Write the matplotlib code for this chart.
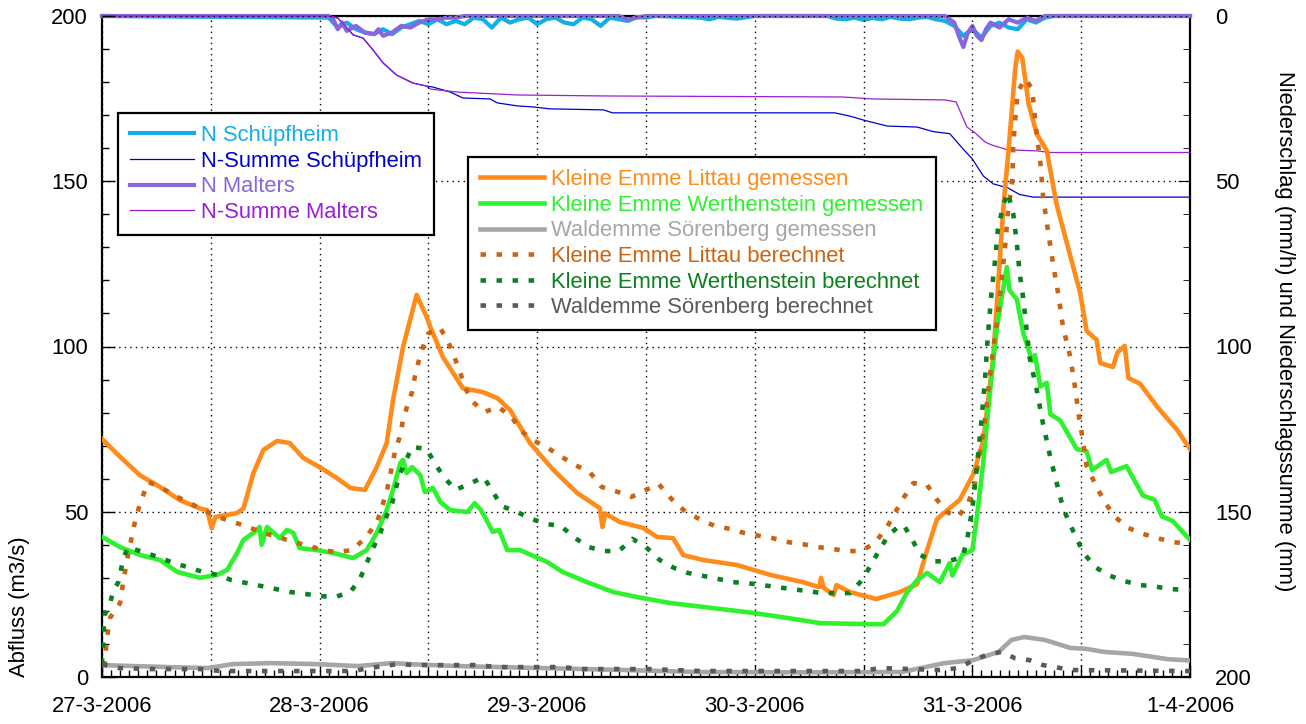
import numpy as np
import matplotlib
matplotlib.use('Agg')
import matplotlib.pyplot as plt
from matplotlib.ticker import MultipleLocator, FixedLocator

plt.rcParams['font.family'] = ['Liberation Sans', 'DejaVu Sans']

########## Data (hours after 27-3-2006 00:00) ##########

### Kleine Emme Littau gemessen (m3/s) ###
littau_gem_h = [0, 2, 4.2, 6.4, 8.6, 10.8, 11.6, 12.1, 12.5, 14.9, 15.6, 16.7, 17.8, 19.3, 20.7, 22.2,
                24, 25.9, 27.4, 29, 30.3, 31.4, 32.1, 33.2, 34.7, 35.8, 36.2, 37.6, 39.8, 42, 43.6, 45,
                47.2, 49.8, 52.4, 54.9, 55.2, 55.5, 57.1, 59.7, 61.2, 63, 64.1, 66.3, 70, 73.7, 77.3,
                79.1, 79.3, 79.6, 80.7, 81, 82.5, 85.4, 88, 89.9, 91, 92.1, 93.5, 94.6, 96.1, 97.2, 98.3,
                99.4, 100.1, 100.7, 101, 101.5, 102.2, 103.1, 104.2, 105.3, 106.8, 107.9, 108.6, 109.7,
                110.1, 111.5, 112, 112.8, 113.2, 114.5, 116.4, 118.6, 120]
littau_gem_q = [72, 66.6, 61, 57.5, 53.5, 51, 50.5, 45, 48.4, 49.6, 51, 61.7, 68.7, 71.4, 70.8, 66.3,
                63.5, 60.2, 57.2, 56.6, 63.5, 70.8, 83.8, 99.8, 115.6, 109, 106, 96.8, 87.4, 86.2, 84.4, 80.8,
                70.8, 62.6, 55.7, 51.1, 45.4, 49.5, 46.9, 45.1, 42.4, 42, 36.9, 35.4, 33.9, 30.9, 28.7,
                27.2, 30, 27, 24.8, 27.8, 25.7, 23.6, 25.7, 28.1, 38.4, 47.8, 51.1, 53.6, 61.4, 71.4, 96.8,
                141.6, 163, 183.5, 189.2, 187.3, 173.4, 164.3, 159.3, 142.8, 127.4, 116, 104.7, 102,
                95, 93.8, 98.2, 100.2, 90.5, 88.7, 81.7, 74.7, 69]

### Kleine Emme Werthenstein gemessen ###
werth_gem_h = [0, 2, 4.2, 6.4, 8.3, 10.8, 12.7, 13.8, 14.9, 15.6, 16.7, 17.4, 17.6, 18.2, 19.6, 20.4,
               21.1, 21.8, 23.7, 25.5, 27.7, 29.2, 30.3, 31.4, 32.1, 32.9, 33.2, 33.6, 34.2, 35.1, 35.6,
               36.5, 37.3, 38.4, 40.3, 41.1, 41.8, 42.3, 43.1, 43.8, 44.7, 46.1, 49.1, 50.8, 53.5, 56.4,
               59, 62.6, 66.3, 71.8, 75.5, 79.2, 84.5, 86.2, 87.7, 88.8, 89.9, 91, 92.4, 93.5, 93.8, 94.9,
               96, 96.5, 97.2, 97.9, 98.7, 99.2, 99.8, 100.1, 100.9, 101.6, 102.6, 102.9, 103.5, 104.2,
               104.6, 105.7, 107.5, 108.6, 109.2, 110.8, 111.3, 113, 114.8, 116.1, 116.9, 118.1, 120]
werth_gem_q = [42.4, 39.3, 36.9, 35.4, 31.8, 30, 30.9, 32.4, 37.5, 41.5, 43.6, 45.4, 40, 45.4, 42, 44.5,
               43.6, 39, 38.4, 37.5, 36, 38.4, 43.6, 50.5, 56.6, 64.7, 65.7, 61.7, 63.5, 61.1, 56,
               57.2, 53, 50.5, 49.9, 52.6, 50.5, 48.1, 43.9, 44.5, 38.4, 38.4, 34.8, 31.8, 28.7, 25.7,
               24.2, 22.4, 21.2, 19.4, 17.9, 16.3, 16, 16, 20, 25.7, 29.3, 31.5, 28.7, 34.5, 30.7, 37,
               38.4, 48.5, 64.9, 85.3, 105.5, 114.3, 124, 117, 114.3, 104.2, 95.6, 97.4, 87.9, 89,
               79.5, 77.6, 69, 68.3, 62.6, 65.7, 62, 63.8, 54.9, 53.6, 48.6, 47.2, 41.5]

### Waldemme Soerenberg gemessen ###
wald_gem_h = [0, 7.2, 11.7, 14.4, 18.6, 23.7, 28.2, 32, 34.7, 39.3, 48.5, 57.7, 66, 77, 88.2, 92.9,
              96.1, 98.9, 100.3, 101.7, 104, 106.8, 108.6, 110.5, 113.7, 117.5, 120]
wald_gem_q = [3.6, 3, 2.7, 3.9, 4.2, 3.9, 3.3, 4.2, 3.8, 3.3, 2.7, 2.1, 1.5, 1.4, 1.5, 4.2,
              5.1, 7.6, 11.2, 12.1, 11.2, 8.8, 8.5, 7.6, 7, 5.4, 5]

### Kleine Emme Littau berechnet ###
littau_ber_h = [0, 0.3, 0.55, 0.9, 2, 2.2, 2.7, 3.5, 4.2, 5.1, 6.4, 8.3, 9.7, 11.2, 12.8, 14.5, 16.1,
                17.8, 19.4, 21.1, 22.6, 24.3, 25.9, 27.6, 29, 30.3, 31.4, 32.3, 32.9, 33.2, 33.7, 34.2,
                34.5, 34.9, 35.4, 36, 37.3, 38.2, 38.9, 39.5, 40, 40.9, 42.2, 43.7, 45.2, 46.1, 47.5, 49,
                50.7, 52.2, 53.8, 55.1, 56.9, 58.4, 60, 61.4, 62.8, 64.4, 66.1, 67.6, 69.3, 70.8, 72.5, 74,
                75.7, 77.3, 79, 80.6, 82.3, 83.8, 85.3, 86.6, 87.5, 88.4, 89.5, 91, 92.1, 93.2, 94.4, 95.5,
                96.3, 96.8, 97.2, 97.6, 97.9, 98.3, 98.8, 99.2, 99.6, 99.9, 100.4, 100.5, 100.7, 101,
                101.8, 102.6, 102.9, 103.5, 103.8, 104.4, 104.9, 105.5, 106, 106.8, 107.3, 107.7, 108.2,
                108.6, 109.7, 110.6, 111.7, 113.2, 114.8, 116.7, 118.3, 120]
littau_ber_q = [3.5, 4.2, 12, 18, 22.4, 26.3, 34.5, 45.4, 52.6, 59, 57.5, 54.5, 52.6, 50.5, 48.4, 46.9, 45.4,
                43.6, 42.4, 40.8, 39.9, 38.4, 37.8, 38.4, 42, 46.6, 56, 68, 73.2, 77.8, 82.3, 86.2,
                90.8, 95.3, 99.8, 104, 105.6, 101.4, 96.5, 92.3, 87.7, 83.2, 80.2, 81.7, 78.7, 74.7, 71.7, 69.6,
                66.6, 64.1, 62, 57.5, 56, 54.5, 56.6, 58.4, 53.9, 49.9, 47.5, 45.7, 44.8, 43.6, 42.7, 42,
                40.8, 40.2, 39.3, 38.7, 38.1, 38.1, 40.8, 45.4, 49.9, 54.2, 58.7, 58.1, 53.6, 49.9, 48.4, 52.3,
                58.7, 67.6, 74, 82.8, 90.3, 99.4, 109.4, 119.7, 130, 140.2, 150.3, 160.5, 168.1, 177,
                181, 178, 168.8, 155.5, 145.2, 133.9, 124.9, 115.3, 105.8, 96.8, 88, 79.7, 71.4,
                63.8, 57.5, 52.9, 48.5, 45.1, 43.3, 41.8, 40.8, 40.2]

### Kleine Emme Werthenstein berechnet ###
werth_ber_h = [0, 0.1, 0.3, 0.9, 1.2, 1.8, 2.4, 2.9, 4.5, 6.2, 7.9, 9.4, 11.1, 12.7, 14.3, 16, 17.6, 19.2,
               20.8, 22.5, 24, 25.7, 27.4, 28.5, 29.2, 29.9, 30.7, 31.2, 32, 32.8, 34.2, 35.8, 36.7, 37.7,
               39, 40.7, 42.1, 43.1, 44.1, 45.8, 47.4, 49, 50.6, 52.2, 53.7, 55.3, 57, 58.5, 60, 61.5,
               63.1, 64.6, 66.3, 67.9, 69.6, 71.2, 72.9, 74.4, 76.1, 77.8, 79.4, 80.8, 82.5, 83.9, 84.9,
               85.8, 86.7, 87.8, 88.4, 89.3, 90.2, 91.7, 93.3, 94.9, 95.4, 96, 96.5, 97, 97.4, 97.7, 98.1,
               98.5, 98.8, 99.4, 99.9, 100.5, 100.9, 101.2, 101.6, 102, 102.3, 103.1, 103.8, 104.6, 105.3,
               106, 106.8, 108.2, 109.5, 111.2, 112.8, 114.5, 115.9, 117.8, 120]
werth_ber_q = [4, 10.3, 18.8, 22.4, 25.7, 28.7, 36.3, 39.3, 37.8, 36.3, 34.5, 33.3, 31.8, 30.9, 29.3, 28.4,
               27.5, 26.6, 25.7, 25.1, 24.5, 24.2, 25.7, 30, 34.5, 39, 43.6, 47.5, 52.6, 61.1, 69.6, 69,
               64.7, 60.5, 56.6, 58.7, 60.5, 56, 51.7, 49.9, 47.8, 46.3, 45.7, 42, 39.3, 38.1, 38.1, 41.8,
               39.3, 35.4, 33, 31.5, 30.6, 29.7, 28.7, 28.4, 27.8, 27.2, 26.6, 26, 25.4, 25.4, 25.4, 29.5,
               34.5, 38.6, 42.8, 45.4, 46, 42, 37, 35, 35, 36.3, 41.2, 51.1, 63.8, 77.7, 90.4, 103.2, 116,
               126.1, 135.2, 142.8, 146.6, 140.2, 131.3, 122.4, 114.7, 104.5, 96.8, 86.8, 76.5, 66.4, 58.7,
               51.1, 46, 37.8, 33.3, 30.6, 29, 27.8, 27.5, 26.6, 26.3]

### Waldemme Soerenberg berechnet ###
wald_ber_h = [0, 1.9, 5.3, 10.8, 13.1, 27.8, 29.4, 31, 32.6, 34.7, 41.1, 43.9, 50.7, 53, 60.4, 66,
              83.6, 85.9, 92.4, 94.5, 96.1, 97.5, 99.2, 100.7, 102.3, 103.8, 105.7, 107.2, 120]
wald_ber_q = [3.8, 2.7, 2.4, 2.4, 1.8, 1.8, 2.7, 3.3, 3.9, 3.6, 3.6, 3, 3, 2.4, 2.4, 1.8,
              1.8, 2.7, 2.1, 2.7, 5.1, 6.6, 7.6, 5.7, 5.1, 3.6, 2.7, 2.1, 1.8]

### Niederschlag Schuepfheim (mm/h) ###
n_schuepf_h = [0, 25, 26, 27, 28, 29, 30, 31, 32, 33, 34, 35, 36, 37, 38, 39, 40, 41, 42, 43, 44, 45,
               46, 47, 48, 49, 50, 51, 52, 53, 54, 55, 56, 57, 58, 59, 60, 61, 66, 67, 68, 70, 72, 80,
               81, 82, 83, 84, 85, 86, 87, 88, 89, 90, 91, 92, 93, 94, 95, 96, 97, 98, 99, 100, 101,
               102, 103, 104, 105, 120]
n_schuepf = [0, 0.5, 3.5, 2, 4, 5, 5.5, 4, 5.5, 3.5, 2.5, 1.5, 2.5, 1, 2.5, 1.5, 2.5, 0.5, 1, 3.5, 0.5, 2,
             1, 0.5, 2.5, 1, 0.5, 2, 2.5, 0.5, 1, 3, 0.5, 1, 1.5, 0.3, 0.5, 0, 0.5, 1, 0.3, 0.8, 0, 0,
             0.8, 1, 0.5, 1.2, 0.6, 1, 0.3, 0.8, 1, 0.5, 0.3, 1, 1.5, 3, 6, 4, 6.5, 3, 2, 3.5, 4,
             1, 2, 0.5, 0, 0]

### Niederschlag Malters (mm/h) ###
n_malters_h = [0, 25, 25.5, 26, 26.5, 27, 28, 29, 30, 30.5, 31, 32, 33, 34, 35, 36, 37, 38, 39, 40,
               57, 58, 59, 60, 93, 94, 94.5, 95, 95.5, 96, 96.5, 97, 97.5, 98, 99, 100, 101, 102, 103,
               104, 120]
n_malters = [0, 0, 1, 4, 2, 4.5, 3, 5, 5.5, 4, 6, 5, 3, 3.5, 2, 1, 1, 0.5, 0.5, 0,
             0, 1, 0.5, 0, 0, 2, 6, 9.4, 5, 3, 6, 7.3, 4, 2, 3.5, 1, 2, 0.5, 1.5,
             0, 0]

### Niederschlagssumme (mm) ###
sum_schuepf_h = [0, 25, 26, 27.7, 28.8, 29.9, 31, 32.5, 34.3, 35.8, 36.5, 38.4, 39.8, 42.8, 43.6, 45.8,
                 47.5, 49.4, 55.3, 56.3, 80.8, 82.5, 84, 86.6, 89.9, 91.7, 93.5, 94.9, 96, 97.2, 98.3,
                 99.9, 101.2, 102.7, 120]
sum_schuepf = [0, 0, 0.6, 5.7, 6.7, 10.3, 14.2, 17.9, 20.3, 21.2, 21.5, 23, 24.8, 25.1, 26.3, 27.2,
               27.5, 28.1, 28.4, 29.3, 29.3, 30.3, 31.5, 33.3, 33.6, 35, 35.6, 40, 43.3, 48.4, 50.8,
               52, 54, 54.8, 54.8]
sum_malters_h = [0, 25, 26, 27.7, 28.8, 29.9, 31, 32.5, 34.3, 35.8, 36.2, 39.1, 45.8, 55.7, 81.7, 85,
                 93, 94.2, 95.4, 96.3, 97.4, 98.1, 99.9, 103.1, 104.6, 120]
sum_malters = [0, 0, 0.6, 5.7, 6.7, 10.3, 14.2, 17.9, 20.3, 21.2, 22.1, 23, 23.9, 24.2, 24.5, 25.1,
               25.4, 26, 33.6, 35.4, 38.1, 39, 40.5, 40.8, 41.3, 41.3]

day_labels = ['27-3-2006', '28-3-2006', '29-3-2006', '30-3-2006', '31-3-2006', '1-4-2006']

########## Figure ##########
fig = plt.figure(figsize=(13.06, 7.24), dpi=100)
ax = fig.add_axes([102/1306, 47/724, 1088/1306, 661/724])
ax2 = ax.twinx()
ax.set_zorder(ax2.get_zorder() + 1)
ax.patch.set_visible(False)

fs = 15.8
dot = (0, (1.2, 2.3))

### precipitation on right axis (inverted) ###
l_ns, = ax2.plot(n_schuepf_h, n_schuepf, color='#12aee6', lw=3, zorder=3, clip_on=False)
l_nss, = ax2.plot(sum_schuepf_h, sum_schuepf, color='#0000cc', lw=0.9, zorder=3, clip_on=False)
l_nm, = ax2.plot(n_malters_h, n_malters, color='#8866dd', lw=3, zorder=3, clip_on=False)
l_nsm, = ax2.plot(sum_malters_h, sum_malters, color='#9b1fd6', lw=0.9, zorder=3, clip_on=False)

### discharge on left axis ###
l1, = ax.plot(littau_gem_h, littau_gem_q, color='#ff8c1a', lw=3.3)
l2, = ax.plot(werth_gem_h, werth_gem_q, color='#2ef22e', lw=3.3)
l3, = ax.plot(wald_gem_h, wald_gem_q, color='#a6a6a6', lw=3.3)
l4, = ax.plot(littau_ber_h, littau_ber_q, color='#cc6310', lw=3.3, linestyle=dot)
l5, = ax.plot(werth_ber_h, werth_ber_q, color='#0a801e', lw=3.3, linestyle=dot)
l6, = ax.plot(wald_ber_h, wald_ber_q, color='#595959', lw=3.3, linestyle=dot)

########## Axes ##########
ax.set_xlim(0, 120)
ax.set_ylim(0, 200)
ax2.set_ylim(200, 0)

ax.xaxis.set_major_locator(FixedLocator(np.arange(0, 121, 12)))
ax.set_xticklabels([day_labels[i // 2] if i % 2 == 0 else '' for i in range(11)])
ax.xaxis.set_minor_locator(MultipleLocator(1))
ax.set_yticks([0, 50, 100, 150, 200])
ax.yaxis.set_minor_locator(MultipleLocator(10))
ax2.set_yticks([0, 50, 100, 150, 200])
ax2.yaxis.set_minor_locator(MultipleLocator(10))

ax.tick_params(axis='both', which='both', direction='in', labelsize=fs, top=False, right=False)
ax.tick_params(axis='both', which='major', length=9, width=1)
ax.tick_params(axis='both', which='minor', length=5, width=1)
ax.tick_params(axis='x', which='major', pad=14)
ax.tick_params(axis='y', which='major', pad=10)
ax2.tick_params(axis='y', which='both', direction='in', labelsize=fs)
ax2.tick_params(axis='y', which='major', length=9, pad=18)
ax2.tick_params(axis='y', which='minor', length=5)

ax.grid(True, which='major', color='black', linestyle=(0, (1, 3)), linewidth=1)

for sp in ax.spines.values():
    sp.set_visible(False)
for sp in ax2.spines.values():
    sp.set_linewidth(1.6)
    sp.set_color('black')

fig.text(20/1306, (724-607)/724, 'Abfluss (m3/s)', rotation=90, ha='center', va='center', fontsize=fs)
fig.text(1285/1306, (724-331)/724, 'Niederschlag (mm/h) und Niederschlagssumme (mm)',
         rotation=270, ha='center', va='center', fontsize=fs)

########## Legends ##########
leg_kw = dict(loc='upper left', borderaxespad=0, fontsize=fs, fancybox=False, framealpha=1,
              edgecolor='black', handlelength=2.9, handletextpad=0.35, labelspacing=0.21,
              borderpad=0.55, labelcolor='linecolor')

leg1 = ax.legend([l_ns, l_nss, l_nm, l_nsm],
                 ['N Schüpfheim', 'N-Summe Schüpfheim', 'N Malters', 'N-Summe Malters'],
                 bbox_to_anchor=((118-102)/1088, (677-113)/661), **leg_kw)
leg1.get_frame().set_linewidth(1.6)
ax.add_artist(leg1)

leg2 = ax.legend([l1, l2, l3, l4, l5, l6],
                 ['Kleine Emme Littau gemessen', 'Kleine Emme Werthenstein gemessen',
                  'Waldemme Sörenberg gemessen', 'Kleine Emme Littau berechnet',
                  'Kleine Emme Werthenstein berechnet', 'Waldemme Sörenberg berechnet'],
                 bbox_to_anchor=((468-102)/1088, (677-157)/661), **leg_kw)
leg2.get_frame().set_linewidth(1.6)

fig.savefig('out.png', dpi=100)
